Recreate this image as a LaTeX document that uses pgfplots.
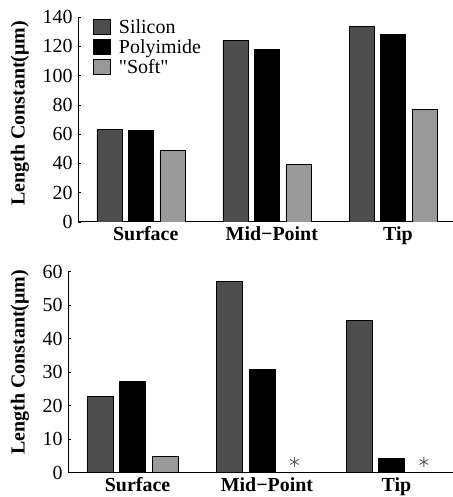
\documentclass[border=0pt]{standalone}
\usepackage{fontspec}
\setmainfont{Liberation Serif}
\newfontfamily\rawfont{Liberation Serif}[Ligatures=TeXOff]
\usepackage{pgfplots}
\pgfplotsset{compat=1.18}
\definecolor{silicon}{HTML}{4D4D4D}
\definecolor{soft}{HTML}{999999}
\definecolor{star}{HTML}{555555}
\pgfplotsset{
  mystyle/.style={
    scale only axis,
    axis lines*=left,
    xmin=0, xmax=11.9, ymin=0,
    xtick={2.15,6.15,10.15},
    xticklabels={Surface,Mid−Point,Tip},
    xtick style={draw=none},
    ytick style={black, line width=0.6bp},
    major tick length=3bp,
    tick align=inside,
    axis line style={black, line width=1bp},
    /pgf/number format/assume math mode=true,
    yticklabel style={font=\fontsize{20}{22}\selectfont, xshift=-2bp},
    xticklabel style={font=\bfseries\fontsize{20}{22}\selectfont, yshift=-1bp},
    ylabel={\bfseries Length Constant(μm)},
    every axis y label/.style={rotate=90, anchor=center, font=\fontsize{20}{22}\selectfont},
  },
  barsty/.style={ybar, bar width=0.8, bar shift=0pt, draw=black, line width=0.8bp},
}
\begin{document}
\begin{tikzpicture}
\useasboundingbox (0,0) rectangle (453bp,497bp);
% ---------- top ----------
\begin{axis}[mystyle,
  at={(78bp,275bp)}, anchor=south west,
  width=375bp, height=205bp,
  ymax=140, ytick={0,20,...,140},
  ylabel style={at={(axis description cs:-0.155,0.53)}},
  legend style={draw=none, fill=none, at={(axis description cs:0.04,0.992)}, anchor=north west,
    font=\fontsize{20}{22}\selectfont, row sep=0pt, column sep=8bp, inner sep=0pt,
    nodes={inner sep=0pt, text height=13bp, text depth=5.7bp, anchor=west}},
  legend cell align=left,
  legend image code/.code={\draw[#1, line width=0.8bp] (0bp,-4.5bp) rectangle (17bp,10.5bp);},
]
\addplot[barsty, fill=silicon] coordinates {(1,63.5) (5,124) (9,133.6)};
\addlegendentry{Silicon}
\addplot[barsty, fill=black] coordinates {(2,62.8) (6,118) (10,128)};
\addlegendentry{Polyimide}
\addplot[barsty, fill=soft] coordinates {(3,49) (7,39.6) (11,77)};
\addlegendentry{{\rawfont "Soft"}}
\addplot[barsty, fill=black, forget plot] coordinates {(4,0) (8,0)};
\end{axis}
% ---------- bottom ----------
\begin{axis}[mystyle,
  at={(68bp,24.3bp)}, anchor=south west,
  width=385bp, height=201bp,
  ymax=60, ytick={0,10,...,60},
  ylabel style={at={(axis description cs:-0.125,0.55)}},
]
\addplot[barsty, fill=silicon] coordinates {(1,22.7) (5,57) (9,45.4)};
\addplot[barsty, fill=black] coordinates {(2,27.2) (6,30.7) (10,4.3)};
\addplot[barsty, fill=soft] coordinates {(3,4.8) (7,0) (11,0)};
\addplot[barsty, fill=black] coordinates {(4,0) (8,0)};
\addplot[only marks, mark=asterisk, mark size=5bp, star, line width=0.8bp] coordinates {(7,3.2) (11,3.2)};
\end{axis}
\end{tikzpicture}
\end{document}
